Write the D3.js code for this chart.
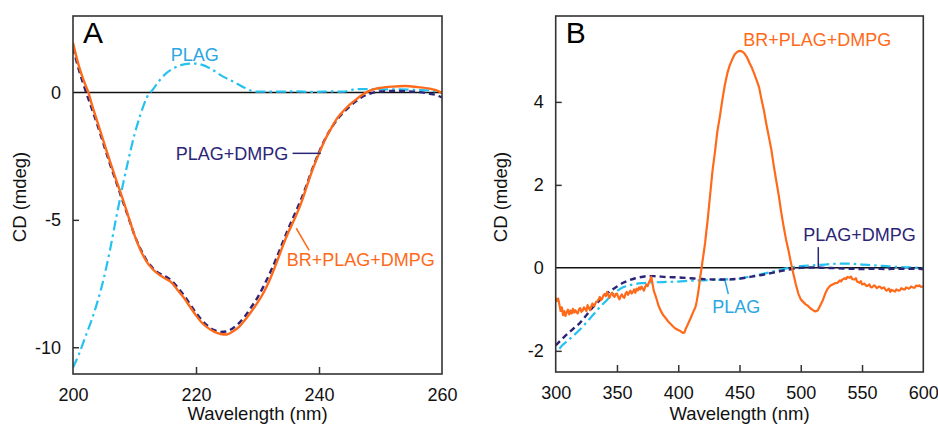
<!DOCTYPE html>
<html><head><meta charset="utf-8">
<script src="https://cdn.jsdelivr.net/npm/d3@7"></script>
<style>body{margin:0;background:#fff}svg{display:block}text{font-family:"Liberation Sans",Arial,sans-serif}</style>
</head><body><svg id="c" width="938" height="427"></svg>
<script>
// ---- Panel A data (far-UV CD) ----
const brA_x = [200,201,202,202.5,203,204,205,206,207,208,209,210,211,212,213,214,215,216,217,218,219,220,221,222,223,224,225,226,227,228,229,230,231,232,233,234,235,236,237,238,239,240,241,242,243,244,245,246,247,248,249,250,252,254,256,258,259,260];
const brA_y = [1.95,1.0,0.3,0,-0.42,-1.18,-1.94,-2.7,-3.42,-4.12,-4.86,-5.6,-6.2,-6.65,-6.95,-7.15,-7.3,-7.45,-7.75,-8.05,-8.4,-8.75,-9.05,-9.25,-9.4,-9.48,-9.5,-9.38,-9.2,-8.92,-8.6,-8.25,-7.85,-7.35,-6.75,-6.1,-5.5,-4.98,-4.4,-3.7,-3.0,-2.4,-1.85,-1.4,-1.0,-0.72,-0.48,-0.28,-0.1,0.04,0.13,0.18,0.23,0.25,0.21,0.15,0.09,-0.03];
const plagDmpgA_x = [200,201,202,203,204,205,206,207,208,209,210,211,212,213,214,215,216,217,218,219,220,221,222,223,224,225,226,227,228,229,230,231,232,233,234,235,236,237,238,239,240,241,242,243,244,245,246,247,248,249,250,252,254,256,258,259,260];
const plagDmpgA_y = [1.75,0.85,0.1,-0.6,-1.3,-2.05,-2.8,-3.5,-4.2,-4.9,-5.6,-6.15,-6.6,-6.9,-7.1,-7.22,-7.38,-7.65,-7.95,-8.3,-8.65,-8.95,-9.18,-9.33,-9.4,-9.38,-9.25,-9.05,-8.77,-8.42,-8.05,-7.6,-7.1,-6.55,-5.95,-5.35,-4.8,-4.25,-3.62,-2.95,-2.35,-1.82,-1.4,-1.05,-0.78,-0.55,-0.35,-0.18,-0.07,0.0,0.04,0.06,0.05,0.02,-0.05,-0.1,-0.2];
const plagA_x = [200,201,202,203,204,205,206,207,208,209,210,211,212,213,214,215,216,217,218,219,220,221,222,223,224,225,226,227,228,229,230,233,236,239,242,244,245,246,248,250,253,256,258,260];
const plagA_y = [-10.8,-10.25,-9.6,-8.95,-8.2,-7.3,-6.2,-4.95,-3.75,-2.65,-1.65,-0.85,-0.2,0.12,0.45,0.72,0.9,1.02,1.1,1.13,1.13,1.08,0.98,0.84,0.68,0.55,0.43,0.3,0.17,0.07,0.03,0.03,0.04,0.02,0.04,0.03,0.08,0.13,0.13,0.12,0.12,0.1,0.08,0.0];
const xTicksA = [200,220,240,260];
const yTicksA = [0,-5,-10];

// ---- Panel B data (visible CD) ----
const brB_x = [300,301,302,303,304,305,306,307,308,309,310,311,312,313,314,315,316,317,318,319,320,321,322,323,324,325,326,327,328,329,330,331,332,333,334,335,336,337,338,339,340,341,342,343,344,345,346,347,348,349,350,351,352,353,354,355,356,357,358,359,360,361,362,363,364,365,366,367,368,369,370,371,372,373,374,375,376,377,378,379,380,382,384,386,388,390,392,394,396,398,400,402,404,405,406,408,410,412,414,415,416,417,418,419,420,421,422,423,424,426,428,430,432,434,436,438,440,442,444,446,448,450,452,454,456,458,460,462,464,466,468,470,472,474,476,478,480,482,484,486,488,490,492,494,496,498,500,502,504,506,508,510,512,514,516,518,520,522,524,526,528,530,532,533,534,536,537,538,540,541,542,544,545,546,548,549,550,552,553,554,556,557,558,560,561,562,564,565,566,568,569,570,572,573,574,576,577,578,580,581,582,584,585,586,588,589,590,592,593,594,596,597,598,600];
const brB_y = [-0.72,-0.8,-0.74,-0.88,-1.04,-0.95,-1.14,-1.04,-1.16,-1.07,-1.01,-1.12,-1.03,-1.1,-0.99,-1.08,-1.02,-1.07,-1.1,-1.0,-0.97,-1.06,-1.03,-0.95,-0.99,-1.04,-0.9,-0.96,-1.02,-0.93,-0.86,-0.92,-0.89,-0.82,-0.8,-0.76,-0.7,-0.78,-0.74,-0.66,-0.63,-0.68,-0.58,-0.66,-0.72,-0.64,-0.6,-0.67,-0.7,-0.63,-0.62,-0.7,-0.76,-0.68,-0.64,-0.7,-0.72,-0.62,-0.58,-0.65,-0.6,-0.55,-0.62,-0.58,-0.52,-0.6,-0.5,-0.54,-0.47,-0.52,-0.45,-0.5,-0.55,-0.46,-0.4,-0.44,-0.36,-0.3,-0.22,-0.38,-0.55,-0.72,-0.92,-1.05,-1.15,-1.22,-1.3,-1.36,-1.42,-1.47,-1.5,-1.53,-1.57,-1.56,-1.48,-1.35,-1.22,-1.08,-0.95,-0.82,-0.65,-0.45,-0.2,-0.02,0.2,0.4,0.62,0.9,1.15,1.75,2.35,2.8,3.3,3.65,4.05,4.4,4.68,4.88,5.02,5.14,5.2,5.23,5.22,5.17,5.08,4.95,4.83,4.68,4.52,4.35,4.05,3.78,3.45,3.15,2.85,2.45,2.1,1.75,1.35,1.0,0.68,0.42,0.12,-0.15,-0.4,-0.62,-0.76,-0.82,-0.88,-0.92,-0.98,-1.02,-1.05,-1.02,-0.9,-0.78,-0.62,-0.5,-0.43,-0.4,-0.37,-0.36,-0.3,-0.33,-0.28,-0.25,-0.27,-0.22,-0.24,-0.21,-0.27,-0.28,-0.25,-0.33,-0.36,-0.32,-0.4,-0.38,-0.42,-0.44,-0.4,-0.46,-0.47,-0.42,-0.45,-0.49,-0.45,-0.46,-0.5,-0.47,-0.52,-0.55,-0.5,-0.58,-0.53,-0.56,-0.57,-0.52,-0.55,-0.54,-0.49,-0.52,-0.52,-0.47,-0.5,-0.49,-0.45,-0.48,-0.48,-0.43,-0.44,-0.42,-0.46,-0.45,-0.42];
const plagDmpgB_x = [300,305,310,315,320,325,330,335,340,345,350,355,360,365,370,375,380,390,400,410,420,430,440,450,460,470,480,490,500,510,520,530,540,550,560,570,580,590,600];
const plagDmpgB_y = [-1.87,-1.72,-1.58,-1.45,-1.32,-1.14,-0.96,-0.81,-0.67,-0.55,-0.45,-0.36,-0.3,-0.25,-0.22,-0.2,-0.2,-0.22,-0.23,-0.25,-0.27,-0.28,-0.28,-0.26,-0.21,-0.16,-0.1,-0.04,0.0,0.01,0.0,-0.01,-0.02,-0.03,-0.02,-0.03,-0.02,-0.02,-0.03];
const plagB_x = [303,305,310,315,320,325,330,335,340,345,350,355,360,365,370,380,390,400,410,420,430,440,450,460,470,480,490,500,510,520,530,540,550,560,570,580,590,600];
const plagB_y = [-1.95,-1.88,-1.75,-1.62,-1.48,-1.32,-1.15,-0.98,-0.83,-0.68,-0.56,-0.47,-0.42,-0.39,-0.37,-0.35,-0.34,-0.33,-0.31,-0.3,-0.29,-0.28,-0.26,-0.2,-0.14,-0.07,0.0,0.04,0.06,0.08,0.1,0.1,0.08,0.06,0.04,0.02,0.01,0.0];
const xTicksB = [300,350,400,450,500,550,600];
const yTicksB = [-2,0,2,4];

const C_OR = "#ff6a1a", C_NV = "#2b2578", C_CY = "#25c2f0", C_CYT = "#2aa6e2";
const svg = d3.select("#c");

function panel(o){
  const g = svg.append("g");
  const x = d3.scaleLinear().domain(o.xd).range([o.l, o.r]);
  const y = d3.scaleLinear().domain(o.yd).range([o.b, o.t]);
  const cid = "clip" + o.letter;
  svg.append("clipPath").attr("id", cid).append("rect")
    .attr("x", o.l).attr("y", o.t).attr("width", o.r - o.l).attr("height", o.b - o.t);
  const ax = g.append("g").attr("transform", `translate(0,${o.b})`)
    .call(d3.axisBottom(x).tickValues(o.xt).tickSize(-7).tickPadding(14).tickFormat(d3.format("d")));
  const ay = g.append("g").attr("transform", `translate(${o.l},0)`)
    .call(d3.axisLeft(y).tickValues(o.yt).tickSize(-6).tickPadding(12).tickFormat(d => d < 0 ? "-" + Math.abs(d) : d));
  [ax, ay].forEach(a => {
    a.select(".domain").remove();
    a.selectAll("line").attr("stroke", "#333").attr("stroke-width", 1.5);
    a.selectAll("text").attr("font-size", 18).attr("fill", "#111").attr("font-family", '"Liberation Sans",Arial,sans-serif');
  });
  ax.selectAll(".tick").filter(d => d === o.xd[0] || d === o.xd[1]).select("line").remove();
  ay.selectAll(".tick").filter(d => d === 0).select("line").remove();
  g.append("line").attr("x1", o.l).attr("x2", o.r).attr("y1", y(0)).attr("y2", y(0))
    .attr("stroke", "#111").attr("stroke-width", 1.5);
  const cg = g.append("g").attr("clip-path", `url(#${cid})`);
  o.series.forEach(s => {
    const pts = s.x.map((v, i) => [v, s.y[i]]);
    cg.append("path").datum(pts)
      .attr("fill", "none").attr("stroke", s.color).attr("stroke-width", s.w || 2.2)
      .attr("stroke-dasharray", s.dash || null).attr("stroke-linejoin", "round")
      .attr("d", d3.line().x(d => x(d[0])).y(d => y(d[1])).curve(s.curve || d3.curveMonotoneX));
  });
  g.append("rect").attr("x", o.l).attr("y", o.t).attr("width", o.r - o.l).attr("height", o.b - o.t)
    .attr("fill", "none").attr("stroke", "#333").attr("stroke-width", 1.6);
  g.append("text").attr("x", o.l + 10).attr("y", 43).attr("font-size", 30).attr("fill", "#000").text(o.letter);
  g.append("text").attr("x", (o.l + o.r) / 2).attr("y", 420).attr("text-anchor", "middle")
    .attr("font-size", 18.5).attr("fill", "#111").text("Wavelength (nm)");
  g.append("text").attr("transform", `translate(${o.ytx},197) rotate(-90)`).attr("text-anchor", "middle")
    .attr("font-size", 18.5).attr("fill", "#111").text("CD (mdeg)");
  o.labels.forEach(L => {
    g.append("text").attr("x", x(L.x)).attr("y", y(L.y)).attr("font-size", 18).attr("fill", L.color).text(L.text);
    if (L.lead) g.append("line").attr("x1", x(L.lead[0])).attr("y1", y(L.lead[1]))
      .attr("x2", x(L.lead[2])).attr("y2", y(L.lead[3])).attr("stroke", L.lcolor || L.color).attr("stroke-width", 1.5);
  });
}

panel({
  letter: "A", l: 73, r: 442, t: 16, b: 374, xd: [200, 260], yd: [-11.05, 3.0],
  xt: xTicksA, yt: yTicksA, ytx: 26,
  series: [
    {x: plagA_x, y: plagA_y, color: C_CY, dash: "10,4,2.5,4", w: 2.2},
    {x: plagDmpgA_x, y: plagDmpgA_y, color: C_NV, dash: "6,4", w: 2.4},
    {x: brA_x, y: brA_y, color: C_OR, w: 2.4}
  ],
  labels: [
    {text: "PLAG", x: 215.9, y: 1.25, color: C_CYT},
    {text: "PLAG+DMPG", x: 216.7, y: -2.67, color: C_NV, lead: [235.7, -2.39, 240.3, -2.39]},
    {text: "BR+PLAG+DMPG", x: 234.75, y: -6.81, color: C_OR, lead: [236.3, -5.33, 238.4, -6.2]}
  ]
});

panel({
  letter: "B", l: 555.7, r: 923.3, t: 16, b: 372, xd: [300, 600], yd: [-2.51, 6.07],
  xt: xTicksB, yt: yTicksB, ytx: 507,
  series: [
    {x: plagB_x, y: plagB_y, color: C_CY, dash: "10,4,2.5,4", w: 2.2},
    {x: plagDmpgB_x, y: plagDmpgB_y, color: C_NV, dash: "6,4", w: 2.4},
    {x: brB_x, y: brB_y, color: C_OR, w: 2.2, curve: d3.curveLinear}
  ],
  labels: [
    {text: "BR+PLAG+DMPG", x: 453.1, y: 5.34, color: C_OR},
    {text: "PLAG+DMPG", x: 502.1, y: 0.64, color: C_NV, lead: [514.3, 0.5, 514.3, 0.0]},
    {text: "PLAG", x: 427.8, y: -1.08, color: C_CYT, lead: [438.2, -0.31, 440.9, -0.63]}
  ]
});
</script></body></html>
